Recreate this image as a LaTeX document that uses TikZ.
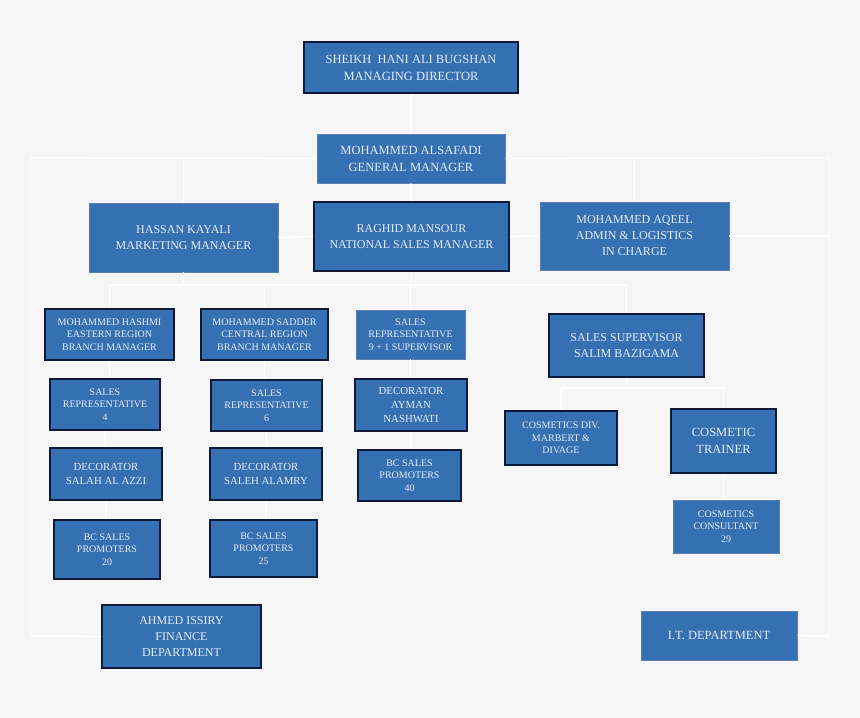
\documentclass[tikz,border=0pt]{standalone}
\usepackage{fontspec}
\setmainfont{Liberation Serif}

\definecolor{bgcol}{HTML}{F6F6F6}
\definecolor{boxblue}{HTML}{3570B2}
\definecolor{boxedge}{HTML}{0F1A3A}
\definecolor{thinedge}{HTML}{5B7FB5}
\definecolor{boxtext}{HTML}{E6ECF6}

\begin{document}
\begin{tikzpicture}[x=1pt,y=1pt,
  post/.style={draw=boxedge,line width=1.8pt,fill=boxblue,text=boxtext,align=center,inner sep=1pt},
  thinpost/.style={post,draw=thinedge,line width=0.8pt},
  wh/.style 2 args={minimum width=#1pt,minimum height=#2pt},
  big/.style={font=\fontsize{12.5}{17}\selectfont},
  mid/.style={font=\fontsize{12}{16}\selectfont},
  deco/.style={font=\fontsize{10.8}{14}\selectfont},
  small/.style={font=\fontsize{10}{12.5}\selectfont},
  link/.style={draw=white,line width=1.3pt}]
  \useasboundingbox[fill=bgcol] (0,0) rectangle (860,718);

  % top of the chart
  \node[post,big,wh={214}{51}] (md) at (411,650.5) {SHEIKH\ \ HANI ALI BUGSHAN\\MANAGING DIRECTOR};
  \node[thinpost,big,wh={188}{49}] (gm) at (411,559.5) {MOHAMMED ALSAFADI\\GENERAL MANAGER};
  \node[thinpost,mid,wh={189}{69}] (hassan) at (183.5,480.5) {HASSAN KAYALI\\MARKETING MANAGER};
  \node[post,mid,wh={195}{69}] (raghid) at (411.5,481.5) {RAGHID MANSOUR\\NATIONAL SALES MANAGER};
  \node[thinpost,mid,wh={189}{68}] (aqeel) at (634.5,482) {MOHAMMED AQEEL\\ADMIN \& LOGISTICS\\IN CHARGE};

  % branches
  \node[post,small,wh={129}{51}] (hashmi) at (109.5,383.5) {MOHAMMED HASHMI\\EASTERN REGION\\BRANCH MANAGER};
  \node[post,small,wh={127}{51}] (sadder) at (264.5,383.5) {MOHAMMED SADDER\\CENTRAL REGION\\BRANCH MANAGER};
  \node[thinpost,small,wh={109}{49}] (rep9) at (410.5,383.5) {SALES\\REPRESENTATIVE\\9 + 1 SUPERVISOR};
  \node[post,mid,wh={155}{63}] (salim) at (626.5,372.5) {SALES SUPERVISOR\\SALIM BAZIGAMA};

  \node[post,small,wh={110}{51}] (rep4) at (105,313.5) {SALES\\REPRESENTATIVE\\4};
  \node[post,small,wh={111}{51}] (rep6) at (266.5,312.5) {SALES\\REPRESENTATIVE\\6};
  \node[post,deco,wh={112}{52}] (ayman) at (411,313) {DECORATOR\\AYMAN\\NASHWATI};

  \node[post,deco,wh={112}{52}] (salah) at (106,244) {DECORATOR\\SALAH AL AZZI};
  \node[post,deco,wh={112}{52}] (saleh) at (266,244) {DECORATOR\\SALEH ALAMRY};
  \node[post,small,wh={103}{51}] (bcforty) at (409.5,242.5) {BC SALES\\PROMOTERS\\40};

  \node[post,small,wh={112}{54}] (cosdiv) at (561,280) {COSMETICS DIV.\\MARBERT \&\\DIVAGE};
  \node[post,big,wh={105}{64}] (trainer) at (723.5,277) {COSMETIC\\TRAINER};

  \node[post,small,wh={106}{59}] (bctwenty) at (107,168.5) {BC SALES\\PROMOTERS\\20};
  \node[post,small,wh={107}{57}] (bctwentyfive) at (263.5,169.5) {BC SALES\\PROMOTERS\\25};
  \node[thinpost,small,wh={106}{53}] (consult) at (726,191.5) {COSMETICS\\CONSULTANT\\29};

  % departments at the bottom
  \node[post,mid,wh={159}{63}] (ahmed) at (181.5,81.5) {AHMED ISSIRY\\FINANCE\\DEPARTMENT};
  \node[thinpost,big,wh={156}{49}] (itdept) at (719,82.5) {I.T. DEPARTMENT};

  % connectors
  \coordinate (ltop) at (31,560);
  \coordinate (lbot) at (31,82);
  \coordinate (rtop) at (829,560);
  \coordinate (rbot) at (829,82);
  \coordinate (bus) at (0,433);
  \coordinate (sbus) at (0,330);

  \draw[link] (md.south) -- (gm.north);
  \draw[link] (gm.west) -- (ltop) -- (lbot) -- (ahmed.west);
  \draw[link] (gm.east) -- (rtop) -- (rbot) -- (itdept.east);
  \draw[link] (hassan.north) -- (hassan.north |- ltop);
  \draw[link] (aqeel.north) -- (aqeel.north |- rtop);
  \draw[link] (gm.south) -- (raghid.north);
  \draw[link] (hassan.east) -- (raghid.west);
  \draw[link] (raghid.east) -- (aqeel.west);
  \draw[link] (aqeel.east) -- (aqeel.east -| rtop);

  \draw[link] (hassan.south) -- (hassan.south |- bus);
  \draw[link] (raghid.south) -- (raghid.south |- bus);
  \draw[link] (hashmi.north |- bus) -- (salim.north |- bus);
  \foreach \n in {hashmi,sadder,rep9,salim}
    \draw[link] (\n.north |- bus) -- (\n.north);

  \foreach \a/\b in {hashmi/rep4,rep4/salah,salah/bctwenty,
                     sadder/rep6,rep6/saleh,saleh/bctwentyfive,
                     rep9/ayman,ayman/bcforty,trainer/consult}
    \draw[link] (\a.south) -- (\a.south |- \b.north);

  \draw[link] (salim.south) -- (salim.south |- sbus);
  \draw[link] (cosdiv.north |- sbus) -- (trainer.north |- sbus);
  \draw[link] (cosdiv.north |- sbus) -- (cosdiv.north);
  \draw[link] (trainer.north |- sbus) -- (trainer.north);
\end{tikzpicture}
\end{document}
